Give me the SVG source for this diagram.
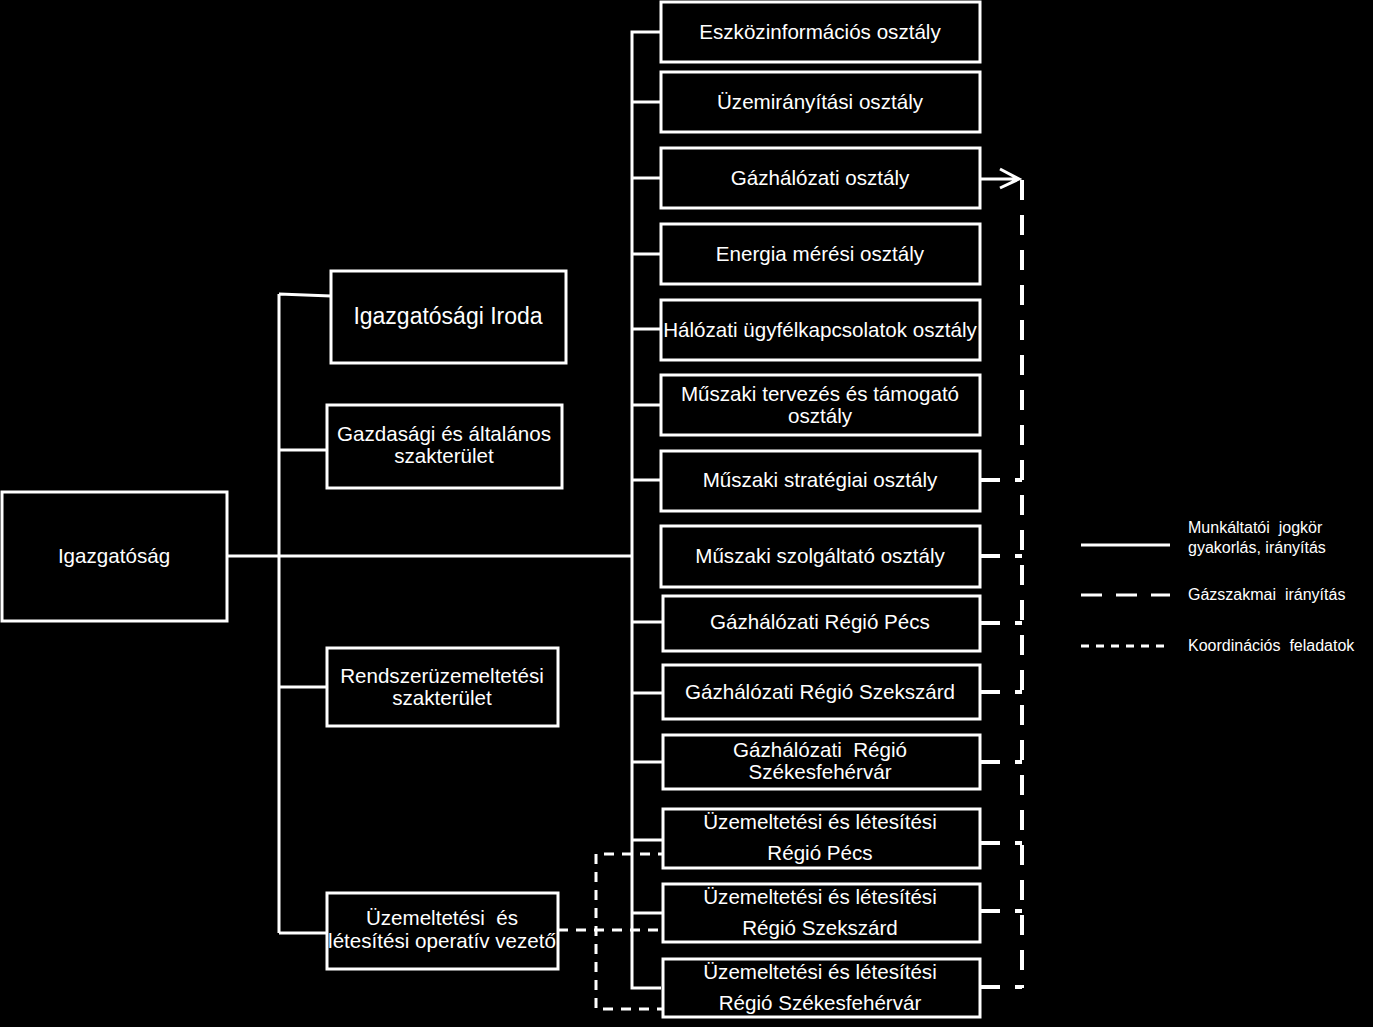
<svg xmlns="http://www.w3.org/2000/svg" width="1373" height="1027" viewBox="0 0 1373 1027">
<style>
.box{fill:#000;stroke:#fff;stroke-width:3}
.t{fill:#fff;font-family:"Liberation Sans",Arial,sans-serif;font-size:20.6px;text-anchor:middle}
.lg{fill:#fff;font-family:"Liberation Sans",Arial,sans-serif;font-size:16px;white-space:pre}
.solid{stroke:#fff;stroke-width:3;fill:none}
.gas{stroke:#fff;stroke-width:4;fill:none;stroke-dasharray:20 15}
.coord{stroke:#fff;stroke-width:3;fill:none;stroke-dasharray:10 8}
</style>
<rect width="1373" height="1027" fill="#000"/>
<g id="connectors">
<path class="solid" d="M227,556 H632 M279,294 V933 M279,294 L331,296 M279,450 H327 M279,687 H327 M279,933 H327"/>
<path class="solid" d="M661,32 H632 V988 H661 M632,102 H661 M632,178 H661 M632,254 H661 M632,329 H661 M632,405 H661 M632,480 H661 M632,622 H663 M632,693 H663 M632,762 H663 M632,840 H663 M632,913 H663"/>
<path class="solid" stroke-width="4" d="M980,179 H1016 M1000,169 L1019,179 L1000,188"/>
<path class="gas" d="M1022,180 V988"/>
<path class="gas" d="M980,480 H1022 M980,556 H1022 M980,623 H1022 M980,692 H1022 M980,762 H1022 M980,843 H1022 M980,911 H1022 M980,987 H1022"/>
<path class="coord" d="M558,930 H668 M668,854 H596 V1009 H668"/>
</g>
<g id="n-igazgatosag"><rect class="box" x="2" y="492" width="225" height="129"/><text class="t" x="114" y="563">Igazgatóság</text></g>
<g id="n-iroda"><rect class="box" x="331" y="271" width="235" height="92"/><text class="t" x="448" y="324" style="font-size:23px">Igazgatósági Iroda</text></g>
<g id="n-gazdasagi"><rect class="box" x="327" y="405" width="235" height="83"/><text class="t" x="444" y="441">Gazdasági és általános</text><text class="t" x="444" y="463">szakterület</text></g>
<g id="n-rendszer"><rect class="box" x="327" y="648" width="231" height="78"/><text class="t" x="442" y="683">Rendszerüzemeltetési</text><text class="t" x="442" y="705">szakterület</text></g>
<g id="n-operativ"><rect class="box" x="327" y="893" width="231" height="76"/><text class="t" x="442" y="925" style="white-space:pre">Üzemeltetési  és</text><text class="t" x="442" y="948">létesítési operatív vezető</text></g>
<g id="n-eszkoz"><rect class="box" x="661" y="2" width="319" height="60"/><text class="t" x="820" y="39">Eszközinformációs osztály</text></g>
<g id="n-uzemiranyitasi"><rect class="box" x="661" y="72" width="319" height="60"/><text class="t" x="820" y="109">Üzemirányítási osztály</text></g>
<g id="n-gazhalozati"><rect class="box" x="661" y="148" width="319" height="60"/><text class="t" x="820" y="185">Gázhálózati osztály</text></g>
<g id="n-energia"><rect class="box" x="661" y="224" width="319" height="60"/><text class="t" x="820" y="261">Energia mérési osztály</text></g>
<g id="n-halozati"><rect class="box" x="661" y="300" width="319" height="60"/><text class="t" x="820" y="337">Hálózati ügyfélkapcsolatok osztály</text></g>
<g id="n-tervezes"><rect class="box" x="661" y="375" width="319" height="60"/><text class="t" x="820" y="401">Műszaki tervezés és támogató</text><text class="t" x="820" y="423">osztály</text></g>
<g id="n-strategiai"><rect class="box" x="661" y="451" width="319" height="60"/><text class="t" x="820" y="487">Műszaki stratégiai osztály</text></g>
<g id="n-szolgaltato"><rect class="box" x="661" y="526" width="319" height="61"/><text class="t" x="820" y="563">Műszaki szolgáltató osztály</text></g>
<g id="n-gr-pecs"><rect class="box" x="663" y="596" width="317" height="55"/><text class="t" x="820" y="629">Gázhálózati Régió Pécs</text></g>
<g id="n-gr-szekszard"><rect class="box" x="663" y="665" width="317" height="54"/><text class="t" x="820" y="699">Gázhálózati Régió Szekszárd</text></g>
<g id="n-gr-szfv"><rect class="box" x="663" y="735" width="317" height="54"/><text class="t" x="820" y="757" style="white-space:pre">Gázhálózati  Régió</text><text class="t" x="820" y="779">Székesfehérvár</text></g>
<g id="n-ul-pecs"><rect class="box" x="663" y="809" width="317" height="59"/><text class="t" x="820" y="829">Üzemeltetési és létesítési</text><text class="t" x="820" y="860">Régió Pécs</text></g>
<g id="n-ul-szekszard"><rect class="box" x="663" y="884" width="317" height="58"/><text class="t" x="820" y="904">Üzemeltetési és létesítési</text><text class="t" x="820" y="935">Régió Szekszárd</text></g>
<g id="n-ul-szfv"><rect class="box" x="663" y="959" width="317" height="58"/><text class="t" x="820" y="979">Üzemeltetési és létesítési</text><text class="t" x="820" y="1010">Régió Székesfehérvár</text></g>
<g id="legend">
<line class="solid" x1="1081" y1="545" x2="1170" y2="545"/>
<line class="solid" stroke-width="4" stroke-dasharray="21 14" x1="1081" y1="595" x2="1170" y2="595"/>
<line class="solid" stroke-dasharray="8 7" x1="1081" y1="646" x2="1170" y2="646"/>
<text class="lg" x="1188" y="533">Munkáltatói  jogkör</text>
<text class="lg" x="1188" y="553">gyakorlás, irányítás</text>
<text class="lg" x="1188" y="600">Gázszakmai  irányítás</text>
<text class="lg" x="1188" y="651">Koordinációs  feladatok</text>
</g>
</svg>
